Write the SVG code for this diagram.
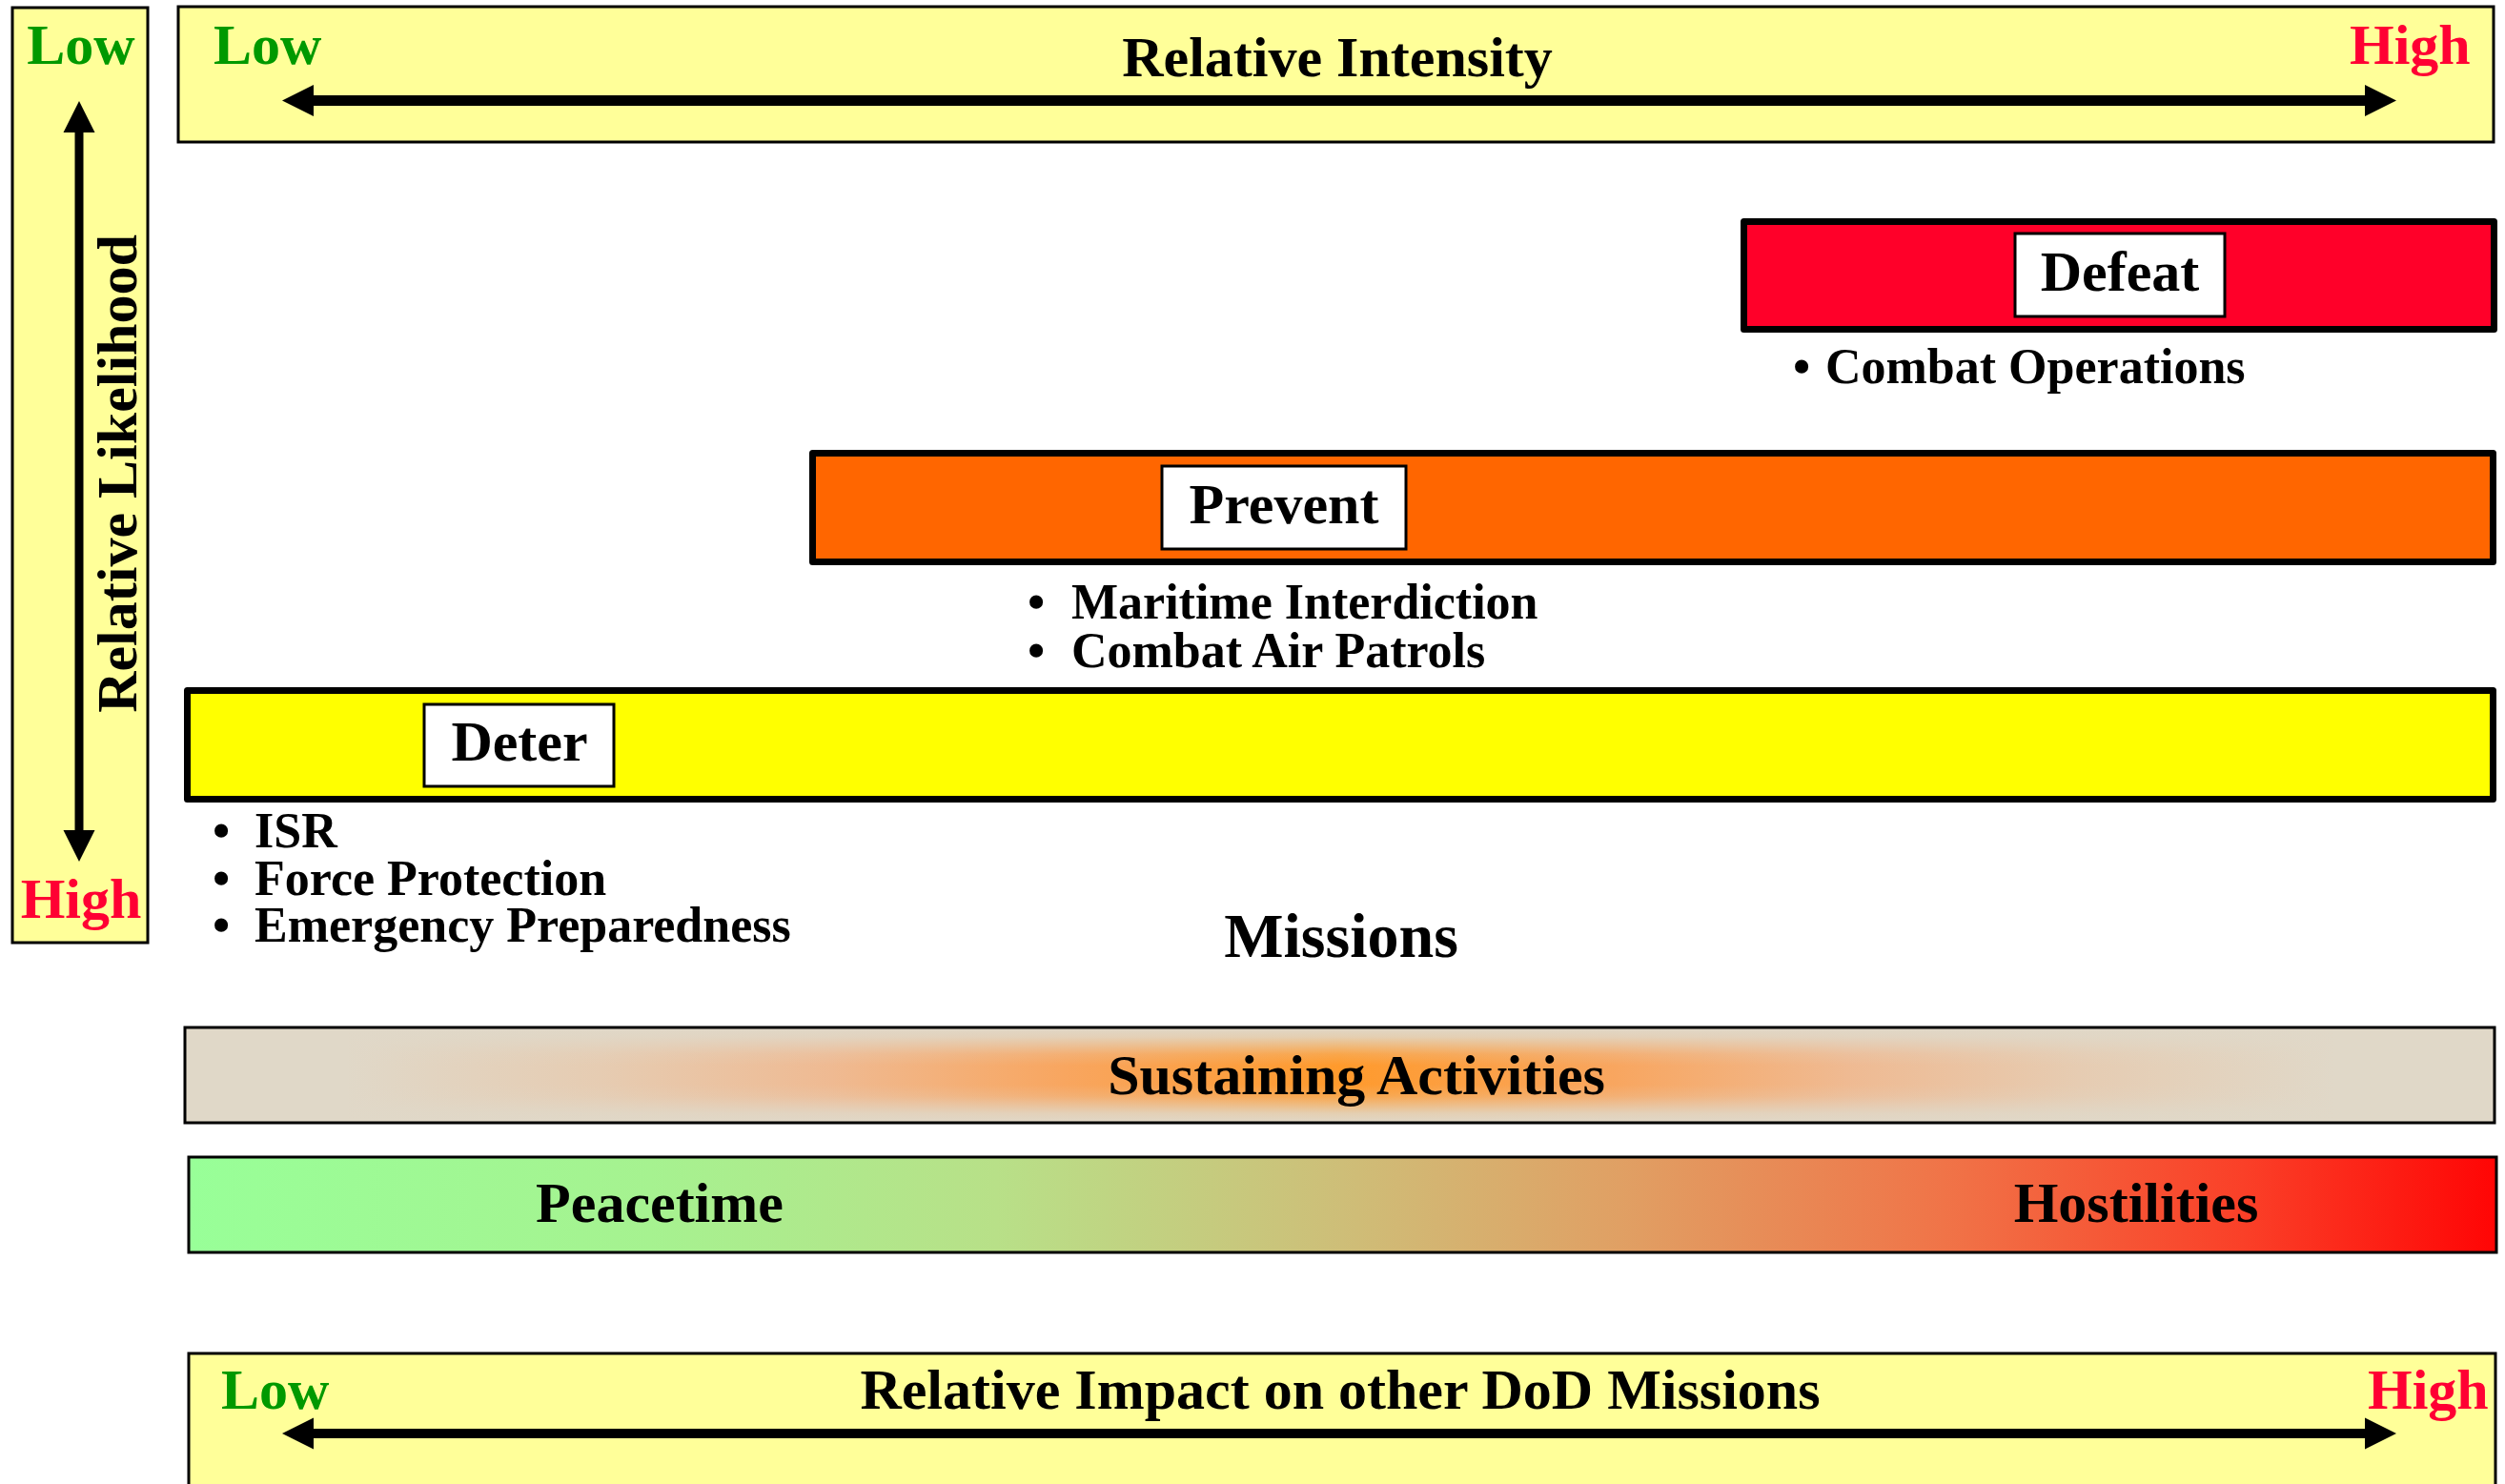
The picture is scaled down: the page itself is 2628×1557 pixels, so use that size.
<svg xmlns="http://www.w3.org/2000/svg" width="2628" height="1557" viewBox="0 0 2628 1557">
<style>
text{font-family:"Liberation Serif","Times New Roman",serif;font-weight:bold;}
.t60{font-size:60px;fill:#000;}
.t52{font-size:52px;fill:#000;}
.low{font-size:60px;fill:#009900;}
.high{font-size:60px;fill:#FF0033;}
.axis{fill:#FFFF99;stroke:#000;stroke-width:3;}
.bar{stroke:#000;stroke-width:7;stroke-linejoin:round;}
.lbl{fill:#FFF;stroke:#000;stroke-width:3;}
.conn{stroke:#000;fill:none;}
.mid{text-anchor:middle;}
</style>
<defs>
<marker id="ah" markerUnits="userSpaceOnUse" markerWidth="34" markerHeight="34" refX="0" refY="16.5" orient="auto-start-reverse" viewBox="0 0 34 33">
<path d="M0,0 L33,16.5 L0,33 z" fill="#000"/>
</marker>
<linearGradient id="sustainH" x1="0" y1="0" x2="1" y2="0">
<stop offset="0" stop-color="#E0D8C8"/>
<stop offset="0.07" stop-color="#E0D8C8"/>
<stop offset="0.18" stop-color="#E6CCB2"/>
<stop offset="0.28" stop-color="#EFBA92"/>
<stop offset="0.38" stop-color="#F8A660"/>
<stop offset="0.5" stop-color="#FF9A2C"/>
<stop offset="0.62" stop-color="#F8A660"/>
<stop offset="0.72" stop-color="#EFBA92"/>
<stop offset="0.82" stop-color="#E6CCB2"/>
<stop offset="0.93" stop-color="#E0D8C8"/>
<stop offset="1" stop-color="#E0D8C8"/>
</linearGradient>
<linearGradient id="sustainV" x1="0" y1="0" x2="0" y2="1">
<stop offset="0" stop-color="#E0D8C8" stop-opacity="1"/>
<stop offset="0.1" stop-color="#E0D8C8" stop-opacity="0.85"/>
<stop offset="0.28" stop-color="#E0D8C8" stop-opacity="0.2"/>
<stop offset="0.4" stop-color="#E0D8C8" stop-opacity="0"/>
<stop offset="0.6" stop-color="#E0D8C8" stop-opacity="0"/>
<stop offset="0.72" stop-color="#E0D8C8" stop-opacity="0.2"/>
<stop offset="0.9" stop-color="#E0D8C8" stop-opacity="0.85"/>
<stop offset="1" stop-color="#E0D8C8" stop-opacity="1"/>
</linearGradient>
<linearGradient id="peace" x1="0" y1="0" x2="1" y2="0">
<stop offset="0" stop-color="#98FF98"/>
<stop offset="0.2" stop-color="#A6F290"/>
<stop offset="0.35" stop-color="#B8E088"/>
<stop offset="0.5" stop-color="#CEBE78"/>
<stop offset="0.62" stop-color="#E0A064"/>
<stop offset="0.76" stop-color="#F07448"/>
<stop offset="0.89" stop-color="#FA4028"/>
<stop offset="1" stop-color="#FF0505"/>
</linearGradient>
</defs>
<rect width="2628" height="1557" fill="#FFFFFF"/>

<g id="likelihood-axis">
<rect class="axis" x="13" y="8" width="142" height="981"/>
<text class="low mid" x="85" y="67">Low</text>
<text class="high mid" x="85" y="963">High</text>
<text class="t60 mid" transform="translate(143,497) rotate(-90)">Relative Likelihood</text>
</g>

<g id="intensity-axis">
<rect class="axis" x="187" y="7" width="2429" height="142"/>
<text class="low" x="224" y="67">Low</text>
<text class="t60 mid" x="1403" y="80">Relative Intensity</text>
<text class="high" x="2465" y="67">High</text>
</g>

<g id="defeat">
<rect class="bar" x="1829.5" y="232.5" width="787" height="113" fill="#FF0029"/>
<rect class="lbl" x="2114" y="245" width="220" height="87"/>
<text class="t60 mid" x="2224" y="305">Defeat</text>
<text class="t52" y="402"><tspan x="1881">•</tspan><tspan x="1915">Combat Operations</tspan></text>
</g>

<g id="prevent">
<rect class="bar" x="852.5" y="475.5" width="1763" height="114" fill="#FF6600"/>
<rect class="lbl" x="1219" y="489" width="256" height="87"/>
<text class="t60 mid" x="1347" y="549">Prevent</text>
<text class="t52" y="649"><tspan x="1078">•</tspan><tspan x="1124">Maritime Interdiction</tspan></text>
<text class="t52" y="700"><tspan x="1078">•</tspan><tspan x="1124">Combat Air Patrols</tspan></text>
</g>

<g id="deter">
<rect class="bar" x="196.5" y="724.5" width="2419" height="114" fill="#FFFF00"/>
<rect class="lbl" x="445" y="739" width="199" height="86"/>
<text class="t60 mid" x="545" y="798">Deter</text>
<text class="t52" y="889"><tspan x="223">•</tspan><tspan x="267">ISR</tspan></text>
<text class="t52" y="939"><tspan x="223">•</tspan><tspan x="267">Force Protection</tspan></text>
<text class="t52" y="988"><tspan x="223">•</tspan><tspan x="267">Emergency Preparedness</tspan></text>
</g>

<g id="missions">
<text class="mid" x="1407" y="1004" style="font-size:66px;fill:#000;">Missions</text>
</g>

<g id="sustaining">
<rect x="194" y="1078" width="2423" height="100" fill="url(#sustainH)"/>
<rect x="194" y="1078" width="2423" height="100" fill="url(#sustainV)" stroke="#000" stroke-width="3"/>
<text class="t60 mid" x="1423" y="1148">Sustaining Activities</text>
</g>

<g id="peacetime-hostilities">
<rect x="198" y="1214" width="2421" height="100" fill="url(#peace)" stroke="#000" stroke-width="3"/>
<text class="t60 mid" x="692" y="1282">Peacetime</text>
<text class="t60 mid" x="2241" y="1282">Hostilities</text>
</g>

<g id="impact-axis">
<rect class="axis" x="198" y="1420" width="2420" height="150"/>
<text class="low" x="232" y="1478">Low</text>
<text class="t60 mid" x="1406" y="1478">Relative Impact on other DoD Missions</text>
<text class="high" x="2484" y="1478">High</text>
</g>

<g id="connectors">
<line class="conn" x1="329" y1="105.5" x2="2481" y2="105.5" stroke-width="11" marker-start="url(#ah)" marker-end="url(#ah)"/>
<line class="conn" x1="83" y1="139" x2="83" y2="871" stroke-width="9" marker-start="url(#ah)" marker-end="url(#ah)"/>
<line class="conn" x1="329" y1="1504" x2="2481" y2="1504" stroke-width="10" marker-start="url(#ah)" marker-end="url(#ah)"/>
</g>
</svg>
